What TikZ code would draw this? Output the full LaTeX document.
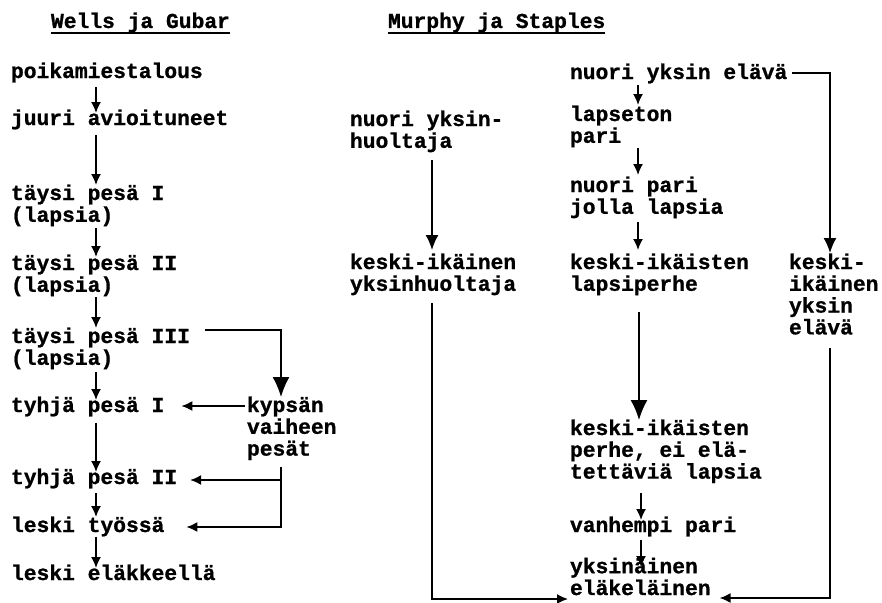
\documentclass[tikz,border=0pt]{standalone}
\usepackage{fontspec}
\newfontfamily\twfont{Liberation Mono}[BoldFeatures={FakeBold=1}]
\usetikzlibrary{arrows.meta,calc}
\begin{document}
\begin{tikzpicture}[x=1pt,y=-1pt,
  lbl/.style={anchor=base west, inner sep=0pt, outer sep=0pt, align=left,
    font=\twfont\bfseries\fontsize{21.3}{21.8}\selectfont},
  conn/.style={line width=1.6pt, -{Latex[length=11pt,width=10pt]}},
  midconn/.style={line width=1.6pt, -{Latex[length=15pt,width=13pt]}},
  bigconn/.style={line width=1.6pt, -{Latex[length=20pt,width=17pt]}},
  uline/.style={line width=1.4pt}]
\useasboundingbox (0,0) rectangle (882,602);
\clip (0,0) rectangle (882,602);

% headings
\node[lbl] (hdrA) at (51,28) {Wells ja Gubar};
\node[lbl] (hdrB) at (388,28) {Murphy ja Staples};
\draw[uline] ($(hdrA.base west)+(0,5)$) -- ($(hdrA.base east)+(0,5)$);
\draw[uline] ($(hdrB.base west)+(0,5)$) -- ($(hdrB.base east)+(0,5)$);

% Wells & Gubar stages (base anchor = baseline of the last line)
\node[lbl] (n1) at (11,78)    {poikamiestalous};
\node[lbl] (n2) at (11,125)   {juuri avioituneet};
\node[lbl] (n3) at (11,221.8) {täysi pesä I\\(lapsia)};
\node[lbl] (n4) at (11,291.8) {täysi pesä II\\(lapsia)};
\node[lbl] (n5) at (11,364.8) {täysi pesä III\\(lapsia)};
\node[lbl] (n6) at (11,412)   {tyhjä pesä I};
\node[lbl] (n7) at (11,484)   {tyhjä pesä II};
\node[lbl] (n8) at (11,532)   {leski työssä};
\node[lbl] (n9) at (11,580)   {leski eläkkeellä};
\node[lbl] (kyps) at (247,455.6) {kypsän\\vaiheen\\pesät};

% Murphy & Staples stages
\node[lbl] (m1) at (350,147.8) {nuori yksin-\\huoltaja};
\node[lbl] (m2) at (350,290.8) {keski-ikäinen\\yksinhuoltaja};
\node[lbl] (r1) at (570,79)    {nuori yksin elävä};
\node[lbl] (r2) at (570,142.8) {lapseton\\pari};
\node[lbl] (r3) at (570,213.8) {nuori pari\\jolla lapsia};
\node[lbl] (r4) at (570,290.8) {keski-ikäisten\\lapsiperhe};
\node[lbl] (r5) at (570,478.6) {keski-ikäisten\\perhe, ei elä-\\tettäviä lapsia};
\node[lbl] (r6) at (570,532)   {vanhempi pari};
\node[lbl] (r7) at (570,595)   {yksinäinen\\eläkeläinen};
\node[lbl] (s1) at (789,334.4) {keski-\\ikäinen\\yksin\\elävä};

% left column sequence
\draw[conn] ($(n1.base west)+(85,9)$)   -- ($(n2.base west)+(85,-12)$);
\draw[conn] ($(n2.base west)+(85,10)$)  -- ($(n3.base west)+(85,-36.8)$);
\draw[conn] ($(n3.base west)+(85,6.2)$) -- ($(n4.base west)+(85,-34.8)$);
\draw[conn] ($(n4.base west)+(85,5.2)$) -- ($(n5.base west)+(85,-36.8)$);
\draw[conn] ($(n5.base west)+(85,7.2)$) -- ($(n6.base west)+(85,-12)$);
\draw[conn] ($(n6.base west)+(85,11)$)  -- ($(n7.base west)+(85,-12)$);
\draw[conn] ($(n7.base west)+(85,9)$)   -- ($(n8.base west)+(85,-15)$);
\draw[conn] ($(n8.base west)+(85,5)$)   -- ($(n9.base west)+(85,-12)$);

% mature-stage branch
\draw[bigconn] ($(n5.base east)+(15,-34.8)$) -| ($(kyps.base west)+(34,-58.6)$);
\draw[conn] ($(kyps.base west)+(-2,-49.6)$) -- ($(n6.base east)+(17,-6)$);
\draw[conn] ($(kyps.base west)+(34,11.4)$) |- ($(n8.base east)+(22,-5)$);
\draw[conn] ($(kyps.base west)+(34,24.4)$) -- ($(n7.base east)+(13,-4)$);

% single parent path
\draw[midconn] ($(m1.base west)+(82,12.2)$) -- ($(m2.base west)+(82,-40.8)$);
\draw[conn] ($(m2.base west)+(82,12.2)$) |- ($(r7.base west)+(-2,4)$);

% family path
\draw[conn] ($(r1.base west)+(68,6)$)   -- ($(r2.base west)+(68,-37.8)$);
\draw[conn] ($(r2.base west)+(68,5.2)$) -- ($(r3.base west)+(68,-38.8)$);
\draw[conn] ($(r3.base west)+(68,8.2)$) -- ($(r4.base west)+(68,-40.8)$);
\draw[bigconn] ($(r4.base west)+(69,21.2)$) -- ($(r5.base west)+(69,-58.6)$);
\draw[conn] ($(r5.base west)+(71,14.4)$) -- ($(r6.base west)+(71,-12)$);
\draw[conn] ($(r6.base west)+(71,8)$)  -- ($(r7.base west)+(71,-28)$);

% living alone path
\draw[midconn] ($(r1.base east)+(5,-6)$) -| ($(s1.base west)+(41,-81.4)$);
\draw[conn] ($(s1.base west)+(41,13.6)$) |- ($(r7.base east)+(9,3)$);
\end{tikzpicture}
\end{document}
